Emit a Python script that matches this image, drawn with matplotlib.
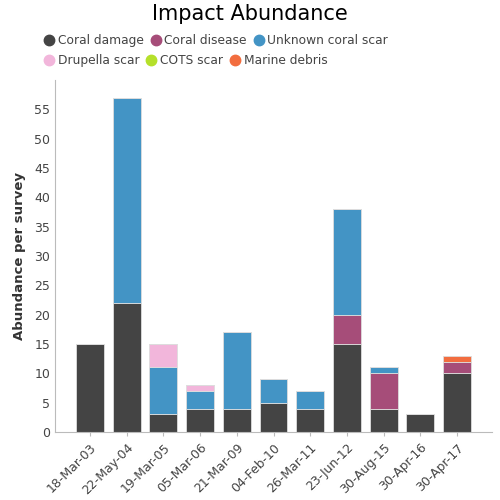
import numpy as np
import matplotlib.pyplot as plt
from matplotlib.lines import Line2D

dates = ['18-Mar-03', '22-May-04', '19-Mar-05', '05-Mar-06', '21-Mar-09', '04-Feb-10',
         '26-Mar-11', '23-Jun-12', '30-Aug-15', '30-Apr-16', '30-Apr-17']
coral_damage = [15, 22, 3, 4, 4, 5, 4, 15, 4, 3, 10]
coral_disease = [0, 0, 0, 0, 0, 0, 0, 5, 6, 0, 2]
unknown_scar = [0, 35, 8, 3, 13, 4, 3, 18, 1, 0, 0]
drupella_scar = [0, 0, 4, 1, 0, 0, 0, 0, 0, 0, 0]
cots_scar = [0, 0, 0, 0, 0, 0, 0, 0, 0, 0, 0]
marine_debris = [0, 0, 0, 0, 0, 0, 0, 0, 0, 0, 1]

series = [
    ('Coral damage', coral_damage, '#444444'),
    ('Coral disease', coral_disease, '#a64d79'),
    ('Unknown coral scar', unknown_scar, '#4394c5'),
    ('Drupella scar', drupella_scar, '#f2b6db'),
    ('COTS scar', cots_scar, '#b5e02a'),
    ('Marine debris', marine_debris, '#f26d3f'),
]

fig = plt.figure(figsize=(5, 5), dpi=100)
ax = fig.add_axes([0.11, 0.136, 0.874, 0.704])

x = np.arange(len(dates))
bottom = np.zeros(len(dates))
for name, vals, col in series:
    vals = np.array(vals, dtype=float)
    ax.bar(x, vals, 0.76, bottom=bottom, color=col, edgecolor='#dddddd', linewidth=0.6)
    bottom += vals

ax.set_xlim(-0.95, 10.95)
ax.set_ylim(0, 60)
ax.set_yticks(range(0, 60, 5))
ax.set_xticks(x)
ax.set_xticklabels(dates, rotation=45, ha='right', rotation_mode='anchor')
ax.tick_params(axis='both', colors='#444444', labelsize=9, length=0)
ax.tick_params(axis='x', length=3, color='#bbbbbb')
for s in ['top', 'right']:
    ax.spines[s].set_visible(False)
for s in ['left', 'bottom']:
    ax.spines[s].set_color('#bbbbbb')
ax.set_ylabel('Abundance per survey', fontsize=9.5, fontweight='bold', color='#333333', labelpad=6)

fig.text(0.5, 0.972, 'Impact Abundance', ha='center', va='center', fontsize=15, color='black')

def handles(items):
    return [Line2D([], [], marker='o', ls='', markersize=7.5, color=c, label=n) for n, _, c in items]

kw = dict(frameon=False, ncol=3, fontsize=8.8, handletextpad=0.2, columnspacing=0.5,
          borderaxespad=0, labelcolor='#444444', handlelength=1.0, loc='upper left')
leg1 = fig.legend(handles=handles(series[:3]), bbox_to_anchor=(0.076, 0.942), **kw)
leg2 = fig.legend(handles=handles(series[3:]), bbox_to_anchor=(0.076, 0.902), **kw)

fig.savefig('out.png', dpi=100)
